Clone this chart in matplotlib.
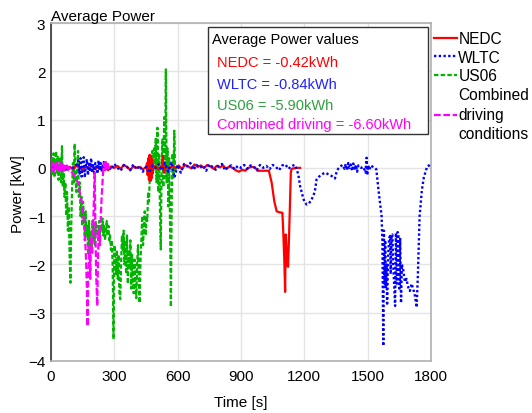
import matplotlib
matplotlib.use('Agg')
import matplotlib.pyplot as plt
from matplotlib.patches import Rectangle

plt.rcParams['font.family'] = ['Liberation Sans', 'DejaVu Sans']

# ---------------- data ----------------
nedc_t = [0, 15, 30, 45, 60, 75, 90, 105, 120, 135, 150, 165, 180, 195, 210, 225, 240, 255,
          270, 285, 300, 315, 330, 345, 360, 375, 390, 405, 420, 435, 450,
          455, 458, 461, 464, 467, 470, 473, 476, 479, 482, 485,
          495, 510, 525, 530, 535, 545, 560, 575, 590, 605, 620, 635, 650, 665, 680, 695,
          710, 725, 740, 755, 770, 785, 800, 815, 830, 845, 860, 875, 890, 905, 920, 935,
          950, 965, 980, 1000, 1020, 1032, 1045, 1058, 1069, 1082, 1096, 1100, 1105, 1109,
          1112, 1116, 1120, 1123, 1127, 1131, 1136, 1140, 1160, 1180]
nedc_v = [0.02, 0.0, 0.03, -0.02, 0.01, 0.0, 0.02, -0.03, 0.05, 0.0, -0.04, 0.03, 0.0, 0.04,
          -0.03, 0.02, 0.0, 0.06, -0.05, 0.03, 0.0, 0.04, -0.02, 0.06, 0.02, -0.04, 0.03, 0.0,
          0.02, -0.03, 0.01,
          0.1, -0.15, 0.2, -0.25, 0.27, -0.27, 0.25, -0.22, 0.18, -0.12, 0.05,
          0.02, -0.03, 0.05, 0.25, -0.1, 0.03, -0.02, 0.04, 0.0, 0.05, -0.02, 0.06, 0.03,
          -0.01, 0.07, 0.02, 0.05, 0.0, 0.06, 0.03, -0.02, 0.04, 0.01, 0.05, -0.02, 0.03, 0.0,
          -0.05, -0.08, -0.04, -0.06, 0.0, 0.02, 0.01, -0.06, -0.06, -0.06, -0.06, -0.3, -0.7,
          -0.9, -0.92, -0.93, -1.3, -1.9, -2.57, -1.38, -1.7, -2.03, -2.05, -1.5, -0.9, -0.1,
          -0.02, 0.0, 0.0]

wltc_t = ([0, 15, 30, 45, 60, 75, 90, 105, 120]
          + list(range(130, 261, 5))
          + list(range(270, 1156, 15))
          + [1164, 1172, 1180, 1190, 1200, 1211, 1220, 1232, 1245, 1251, 1258, 1270, 1280,
             1289, 1300, 1312, 1322, 1330, 1338, 1345, 1352, 1360, 1374,
             1382, 1390, 1396, 1402, 1408, 1414, 1420, 1426, 1432, 1438, 1444, 1450, 1456,
             1462, 1470, 1480, 1490, 1495, 1498, 1502, 1508, 1515, 1525, 1533, 1541, 1551,
             1566, 1570, 1574, 1577, 1580, 1583, 1586, 1590, 1592, 1597, 1602, 1606, 1609,
             1613, 1617, 1621, 1630, 1634, 1638, 1642, 1646, 1650, 1654, 1658, 1662, 1668,
             1676, 1684, 1690, 1700, 1708, 1715, 1722, 1732, 1738, 1746, 1757, 1766, 1773,
             1782, 1789, 1800])
wltc_v = ([0.0, 0.05, -0.03, 0.04, 0.0, -0.05, 0.03, 0.0, 0.06]
          + [0.15, -0.12, 0.2, -0.18, 0.1, 0.22, -0.2, 0.05, 0.18, -0.15, 0.12, -0.08, 0.2,
             -0.1, 0.08, -0.15, 0.1, 0.03, -0.12, 0.15, -0.05, 0.1, -0.08, 0.05, 0.12, -0.06,
             0.04]
          + [0.05, -0.04, 0.08, 0.0, -0.06, 0.06, 0.02, -0.05, 0.07, -0.03,
             0.04, -0.08, 0.02, -0.1, 0.05, 0.0, 0.08, -0.05, 0.1, -0.08,
             0.12, -0.2, 0.06, -0.1, 0.08, 0.03, 0.1, -0.04, 0.06, 0.0,
             0.05, -0.06, 0.07, 0.02, -0.04, 0.06, 0.08, -0.05, 0.03, 0.05,
             -0.03, 0.04, 0.0, 0.06, -0.02, 0.05, 0.03, -0.05, 0.06, 0.0,
             0.04, -0.03, 0.06, 0.02, -0.05, 0.05, 0.07, -0.02, 0.04, 0.06]
          + [-0.03, -0.15, -0.38, -0.55, -0.7, -0.76, -0.74, -0.68, -0.55, -0.45, -0.24,
             -0.18, -0.15, -0.12, -0.1, -0.13, -0.15, -0.17, -0.2, -0.22, -0.1, -0.02, 0.04,
             0.06, -0.02, 0.08, -0.05, 0.1, 0.0, 0.07, -0.06, 0.09, -0.04, 0.06, -0.08, 0.05,
             0.02, 0.0, 0.02, -0.1, 0.21, -0.15, 0.05, -0.04, 0.05, 0.02, 0.0, -0.03, -0.45,
             -1.0, -1.6, -3.69, -1.3, -2.4, -1.5, -2.5, -2.0, -2.85, -1.8, -1.45, -1.41, -2.2,
             -1.4, -1.38, -2.0, -2.86, -1.35, -2.4, -1.33, -1.4, -2.5, -1.45, -2.8, -2.0, -2.1,
             -2.36, -2.3, -2.45, -2.55, -2.4, -2.5, -2.6, -2.89, -2.2, -1.0, -0.45, -0.2, -0.1,
             0.03, 0.05, 0.02])

us06_t = list(range(0, 601, 4))
us06_v = [0.0, 0.2, -0.15, 0.3, -0.2, 0.15, 0.35, -0.1, 0.25, -0.25, 0.1, 0.2, -0.3, 0.45,
          -0.4, -0.1, -0.6, -0.3, -1.0, -0.5, -1.3, -0.8, -1.8, -2.38, -1.2, -0.4, 0.1, -0.3,
          0.5, -0.2, -0.5, 0.0, 0.35, -0.6, -0.3, -1.0, -0.6, -1.2, -0.7, -1.0, -1.5, -0.9,
          -1.4, -1.2, -1.8, -1.1, -1.6, -1.3, -1.7, -1.1, -1.5, -1.2, -1.6, -1.1, -1.4, -1.2,
          -1.5, -1.1, -1.4, -1.2, -1.3, -1.05, -1.4, -1.2, -1.5, -1.3, -1.1, -1.4, -1.2, -1.5,
          -1.4, -1.7, -1.5, -2.0, -3.55, -1.6, -1.8, -2.2, -1.7, -2.3, -1.8, -2.6, -2.72, -2.0,
          -1.4, -1.7, -1.3, -2.0, -1.5, -2.2, -1.4, -2.4, -1.7, -2.1, -1.5, -2.5, -1.8, -2.3,
          -2.6, -1.9, -2.3, -2.7, -2.0, -1.6, -2.4, -2.8, -1.9, -1.5, -1.0, -1.6, -1.2, -0.9,
          -1.4, -1.0, -1.1, -0.5, -0.7, -0.2, -0.3, 0.1, 0.35, -0.1, 0.4, 0.0, 0.6, -0.3, 0.83,
          -0.5, 0.3, -0.8, -1.69, 0.1, 0.59, -0.4, 1.05, -0.2, 2.04, -0.3, 0.4, -0.8, 0.2, -1.2,
          -2.88, -0.6, 0.3, -0.2, 0.77, -0.1, 0.05, 0.0, 0.02]

comb_t = [0, 5, 10, 15, 20, 25, 30, 35, 40, 45, 50, 55, 60, 65, 70, 75, 80, 85, 90, 100, 110,
          120, 128, 134, 140, 146, 150, 155, 160, 166, 170, 173, 176, 179, 183, 186, 190, 195,
          200, 204, 207, 210, 214, 219, 223, 227, 232, 236, 240, 244, 248, 252, 256, 260, 265,
          270, 275]
comb_v = [0.05, -0.05, 0.1, -0.08, 0.08, -0.05, 0.12, 0.0, -0.08, 0.1, -0.05, 0.06, -0.1,
          0.08, 0.0, 0.05, -0.05, 0.02, -0.05, -0.1, -0.15, -0.25, -0.3, -0.45, -0.6, -0.7,
          -0.85, -1.1, -1.3, -1.9, -2.5, -3.28, -2.2, -2.0, -1.6, -2.3, -1.4, -1.8, -1.2, -0.5,
          -0.1, -1.2, -2.2, -2.86, -1.8, -1.3, -1.6, -1.0, -0.6, -0.3, 0.0, 0.1, -0.05, 0.12,
          0.0, 0.08, -0.02]

series_labels = ['NEDC', 'WLTC', 'US06', 'Combined\ndriving\nconditions']
box_title = 'Average Power values'
box_lines = ['NEDC = -0.42kWh', 'WLTC = -0.84kWh', 'US06 = -5.90kWh',
             'Combined driving = -6.60kWh']
xticks = [0, 300, 600, 900, 1200, 1500, 1800]
yticks = [-4, -3, -2, -1, 0, 1, 2, 3]

# ---------------- layout ----------------
W, H = 532, 414
fig = plt.figure(figsize=(W / 100, H / 100), dpi=100)
L, R, T, B = 51, 431, 24, 362


def fx(px):
    return px / W


def fy(py):
    return 1 - py / H


ax = fig.add_axes([fx(L), fy(B), (R - L) / W, (B - T) / H])

c_red, c_blue, c_green, c_mag = '#ff0000', '#0000ff', '#00b400', '#ff00ff'
l1, = ax.plot(nedc_t, nedc_v, color=c_red, lw=1.6, zorder=4)
l2, = ax.plot(wltc_t, wltc_v, color=c_blue, lw=1.7, linestyle=(0, (1, 1)), zorder=5)
l3, = ax.plot(us06_t, us06_v, color=c_green, lw=1.6, linestyle=(0, (2, 1)), zorder=3)
l4, = ax.plot(comb_t, comb_v, color=c_mag, lw=1.6, linestyle=(0, (3, 1.2)), zorder=6)

ax.set_xlim(0, 1800)
ax.set_ylim(-4, 3)
ax.set_xticks(xticks)
ax.set_yticks(yticks)
ax.tick_params(axis='both', length=0, labelsize=11)
ax.tick_params(axis='x', pad=6)
ax.tick_params(axis='y', pad=4)
ax.grid(True, color='#e4e4e4', lw=1)
ax.set_axisbelow(True)
for s in ['top', 'right', 'bottom']:
    ax.spines[s].set_color('#b0b0b0')
    ax.spines[s].set_linewidth(1.2)
ax.spines['left'].set_color('#333333')
ax.spines['left'].set_linewidth(1.2)

fig.text(fx(51), fy(17), 'Average Power', fontsize=11, ha='left', va='center')
fig.text(fx(18), fy(194), 'Power [kW]', fontsize=11, rotation=90, ha='center', va='center')
fig.text(fx(241), fy(403), 'Time [s]', fontsize=11, ha='center', va='center')

# text box
ax.add_patch(Rectangle((fx(208), fy(135)), (428 - 208) / W, (135 - 27.5) / H,
                       transform=fig.transFigure, facecolor='white', edgecolor='#333333',
                       lw=1, zorder=10, clip_on=False))
ax.text(fx(212), fy(40), box_title, transform=fig.transFigure, fontsize=10.5,
        ha='left', va='center', zorder=11)
box_colors = [c_red, '#2020ff', '#30a040', c_mag]
box_y = [63, 85, 106, 125]
for txt, col, yy in zip(box_lines, box_colors, box_y):
    ax.text(fx(217), fy(yy), txt, transform=fig.transFigure, fontsize=10.5, color=col,
            ha='left', va='center', zorder=11)

leg = fig.legend([l1, l2, l3, l4], series_labels, loc='upper left',
                 bbox_to_anchor=(fx(434), fy(32)), frameon=False, borderpad=0,
                 borderaxespad=0, handlelength=1.45, handletextpad=0.12, labelspacing=0.24,
                 fontsize=11.2)
for t in leg.get_texts():
    t.set_linespacing(1.38)

fig.savefig('out.png', dpi=100)
